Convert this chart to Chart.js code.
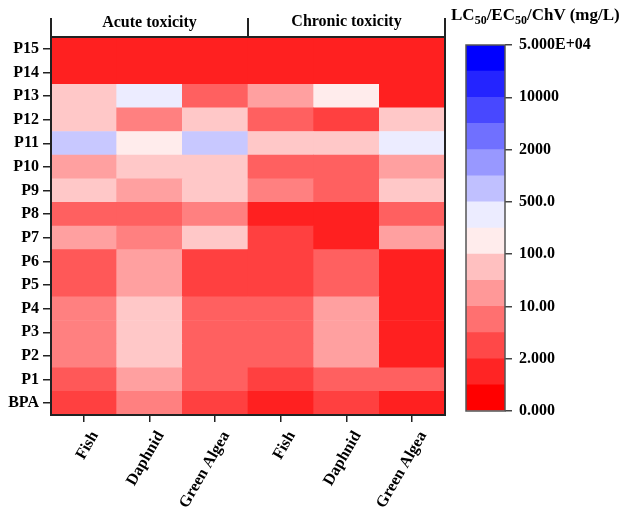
<!DOCTYPE html>
<html>
<head>
<meta charset="utf-8">
<script src="https://cdn.jsdelivr.net/npm/chart.js@4/dist/chart.umd.min.js"></script>
<style>
html, body { margin: 0; padding: 0; background: #fff; }
#wrap { position: relative; width: 629px; height: 508px; overflow: hidden; }
#main { position: absolute; left: 0; top: 0; }
#scale { position: absolute; left: 440px; top: 0; }
#unit { position: absolute; left: 451px; top: 5px; font: bold 17px "Liberation Serif", serif; line-height: 20px; white-space: nowrap; color: #000; }
#unit sub { font-size: 12px; vertical-align: -4px; line-height: 0; }
</style>
</head>
<body>
<div id="wrap">
  <canvas id="main" width="629" height="508"></canvas>
  <canvas id="scale" width="189" height="508"></canvas>
  <div id="unit">LC<sub>50</sub>/EC<sub>50</sub>/ChV (mg/L)</div>
</div>
<script>
// 行（从下到上）
var rowLabels = ['BPA', 'P1', 'P2', 'P3', 'P4', 'P5', 'P6', 'P7', 'P8', 'P9', 'P10', 'P11', 'P12', 'P13', 'P14', 'P15'];
var colLabels = ['Fish', 'Daphnid', 'Green Algea', 'Fish', 'Daphnid', 'Green Algea'];
var groupLabels = ['Acute toxicity', 'Chronic toxicity'];

// LC50/EC50/ChV (mg/L)，按 rowLabels 顺序
var acuteFish      = [2.8, 4.7, 9.5, 9.5, 9.5, 4.7, 4.7, 38, 5.5, 84, 38, 660, 84, 84, 1.4, 1.4];
var acuteDaphnid   = [9.5, 38, 84, 84, 84, 38, 38, 9.5, 5.5, 38, 84, 160, 9.5, 350, 1.4, 1.4];
var acuteAlgae     = [2.8, 5.5, 5.5, 5.5, 5.5, 2.8, 2.8, 84, 9.5, 84, 84, 660, 84, 5.5, 1.4, 1.4];
var chronicFish    = [1.4, 2.8, 5.5, 5.5, 5.5, 2.8, 2.8, 2.8, 1.4, 9.5, 5.5, 84, 5.5, 38, 1.4, 1.4];
var chronicDaphnid = [2.8, 5.5, 38, 38, 38, 5.5, 5.5, 1.4, 1.4, 5.5, 5.5, 84, 2.8, 160, 1.4, 1.4];
var chronicAlgae   = [1.4, 5.5, 1.4, 1.4, 1.4, 1.4, 1.4, 38, 5.5, 84, 38, 350, 84, 1.4, 1.4, 1.4];

// 色标
var levelBounds = [0, 1, 2, 5, 10, 50, 100, 200, 500, 1000, 2000, 5000, 10000, 20000, 50000];
var scaleTickLabels = ['0.000', '2.000', '10.00', '100.0', '500.0', '2000', '10000', '5.000E+04'];
var shade = [0, 36, 72, 112, 152, 192, 236];

var columns = [acuteFish, acuteDaphnid, acuteAlgae, chronicFish, chronicDaphnid, chronicAlgae];
var FONT = 'Liberation Serif';

function valueToPos(v) {
    for (var k = 0; k < levelBounds.length - 1; k++) {
        if (v < levelBounds[k + 1]) return k + (v - levelBounds[k]) / (levelBounds[k + 1] - levelBounds[k]);
    }
    return levelBounds.length - 1;
}
function interpShade(t) {//t: 0..6
    if (t <= 0) return shade[0];
    if (t >= 6) return shade[6];
    var i = Math.floor(t), f = t - i;
    return Math.round(shade[i] + (shade[i + 1] - shade[i]) * f);
}
function toColor(v) {
    var p = valueToPos(v);
    if (p < 7) {
        var g = interpShade(p - 0.5);
        return 'rgb(255,' + g + ',' + g + ')';
    }
    var b = interpShade(13.5 - p);
    return 'rgb(' + b + ',' + b + ',255)';
}
function binColor(i) {
    if (i < 7) return 'rgb(255,' + shade[i] + ',' + shade[i] + ')';
    var s = shade[13 - i];
    return 'rgb(' + s + ',' + s + ',255)';
}

// 边框和分组标题
var framePlugin = {
    id: 'frame',
    afterDraw: function (chart) {
        var ctx = chart.ctx, a = chart.chartArea, x = chart.scales.x;
        var mid = (x.getPixelForValue(2) + x.getPixelForValue(3)) / 2;
        ctx.save();
        ctx.strokeStyle = '#222';
        ctx.lineWidth = 2;
        ctx.strokeRect(a.left, a.top, a.right - a.left, a.bottom - a.top);
        ctx.beginPath();
        [a.left, mid, a.right].forEach(function (px) {
            ctx.moveTo(px, a.top - 19);
            ctx.lineTo(px, a.top);
        });
        ctx.stroke();
        ctx.fillStyle = '#000';
        ctx.font = 'bold 16px "' + FONT + '"';
        ctx.textAlign = 'center';
        ctx.textBaseline = 'middle';
        ctx.fillText(groupLabels[0], (a.left + mid) / 2, a.top - 14);
        ctx.fillText(groupLabels[1], (mid + a.right) / 2, a.top - 15);
        ctx.restore();
    }
};

var datasets = rowLabels.map(function (name, r) {
    return {
        label: name,
        data: columns.map(function () { return 1; }),
        backgroundColor: columns.map(function (col) { return toColor(col[r]); }),
        borderWidth: 0,
        barPercentage: 1,
        categoryPercentage: 1
    };
});

new Chart(document.getElementById('main'), {
    type: 'bar',
    data: { labels: colLabels, datasets: datasets },
    options: {
        responsive: false,
        animation: false,
        layout: { padding: { top: 37, right: 184, left: 0, bottom: 0 } },
        plugins: { legend: { display: false }, tooltip: { enabled: false } },
        scales: {
            x: {
                stacked: true,
                border: { display: false },
                grid: { offset: false, drawOnChartArea: false, tickLength: 7, tickColor: '#222', lineWidth: 1.5 },
                ticks: { color: '#000', font: { family: FONT, size: 16, weight: 'bold' }, maxRotation: 60, minRotation: 60, padding: 6, labelOffset: 11, autoSkip: false },
                afterFit: function (s) { s.height = 93; }
            },
            y: {
                stacked: true,
                min: 0,
                max: rowLabels.length,
                border: { display: false },
                grid: { drawOnChartArea: false, tickLength: 8, tickColor: '#222', lineWidth: 1.5 },
                afterBuildTicks: function (s) {
                    s.ticks = rowLabels.map(function (_, i) { return { value: i + 0.5 }; });
                },
                ticks: {
                    color: '#000',
                    font: { family: FONT, size: 16, weight: 'bold' },
                    padding: 4,
                    callback: function (v, i) { return rowLabels[i]; }
                },
                afterFit: function (s) { s.width = 51; }
            }
        }
    },
    plugins: [framePlugin]
});

// 色标条
var barBorder = {
    id: 'barBorder',
    afterDraw: function (chart) {
        var ctx = chart.ctx, a = chart.chartArea;
        ctx.save();
        ctx.strokeStyle = '#555';
        ctx.lineWidth = 1.5;
        ctx.strokeRect(a.left, a.top, a.right - a.left, a.bottom - a.top);
        ctx.restore();
    }
};

var scaleSets = [];
for (var i = 0; i < levelBounds.length - 1; i++) {
    scaleSets.push({ data: [1], backgroundColor: binColor(i), borderWidth: 0, barPercentage: 1, categoryPercentage: 1 });
}

new Chart(document.getElementById('scale'), {
    type: 'bar',
    data: { labels: [''], datasets: scaleSets },
    options: {
        responsive: false,
        animation: false,
        layout: { padding: { top: 45, bottom: 97, left: 26, right: 0 } },
        plugins: { legend: { display: false }, tooltip: { enabled: false } },
        scales: {
            x: { stacked: true, display: false },
            y: {
                stacked: true,
                position: 'right',
                min: 0,
                max: levelBounds.length - 1,
                border: { display: false },
                grid: { drawOnChartArea: false, tickLength: 7, tickColor: '#444', lineWidth: 1.5 },
                afterBuildTicks: function (s) {
                    s.ticks = scaleTickLabels.map(function (_, i) { return { value: i * 2 }; });
                },
                ticks: {
                    color: '#000',
                    font: { family: FONT, size: 16, weight: 'bold' },
                    padding: 7,
                    callback: function (v, i) { return scaleTickLabels[i]; }
                },
                afterFit: function (s) { s.width = 124; }
            }
        }
    },
    plugins: [barBorder]
});
</script>
</body>
</html>
